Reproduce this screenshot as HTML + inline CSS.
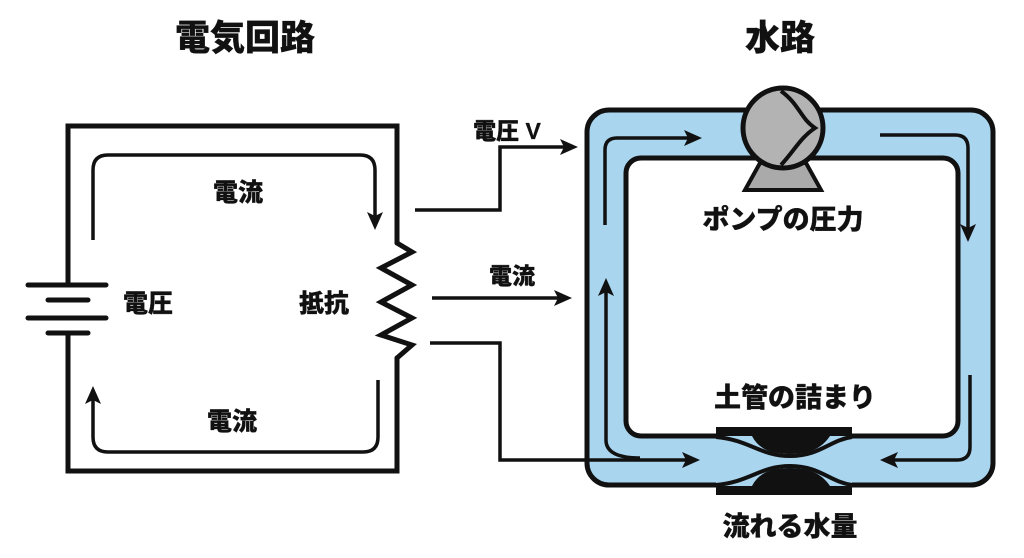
<!DOCTYPE html>
<html><head><meta charset="utf-8"><style>
html,body{margin:0;padding:0;background:#fff;}
svg{display:block}
text{font-family:"Liberation Sans","Noto Sans CJK JP",sans-serif;font-weight:900;fill:#111;stroke:#111;stroke-width:0.3}
</style></head><body>
<svg width="1024" height="558" viewBox="0 0 1024 558" xmlns="http://www.w3.org/2000/svg">
<text x="245" y="50" font-size="35" text-anchor="middle">電気回路</text>
<text x="780" y="50" font-size="35" text-anchor="middle">水路</text>
<!-- circuit -->
<g stroke="#111" stroke-width="5" fill="none" stroke-linecap="round">
<path d="M68,285 V126 H397 V243"/>
<path d="M68,333 V471 H397 V358"/>
<path d="M397,243 L412,252 L381,268 L412,285 L381,302 L412,318 L381,335 L412,345 L397,358" stroke-linejoin="miter"/>
<line x1="28" y1="285" x2="106" y2="285"/>
<line x1="48" y1="300" x2="88" y2="300"/>
<line x1="28" y1="318" x2="106" y2="318"/>
<line x1="48" y1="333" x2="88" y2="333"/>
</g>
<g stroke="#111" stroke-width="3.5" fill="none">
<path d="M93,240 V170 Q93,155 108,155 H360 Q375,155 375,170 V220"/>
<path d="M378,380 V437 Q378,452 363,452 H108 Q93,452 93,437 V396"/>
</g>
<g fill="#111">
<polygon points="375,230 367,212 375,216 383,212"/>
<polygon points="93,386 85,404 93,400 101,404"/>
</g>
<text x="238" y="201" font-size="25" text-anchor="middle">電流</text>
<text x="148" y="312" font-size="25" text-anchor="middle">電圧</text>
<text x="324" y="312" font-size="25" text-anchor="middle">抵抗</text>
<text x="232" y="430" font-size="25" text-anchor="middle">電流</text>
<!-- water -->
<rect x="587" y="110" width="406" height="375" rx="22" fill="#a9d5ef" stroke="#111" stroke-width="5"/>
<rect x="626" y="158" width="332" height="278" rx="15" fill="#fff" stroke="#111" stroke-width="5"/>
<!-- restriction -->
<rect x="716" y="436" width="136" height="50" fill="#a9d5ef"/>
<rect x="716" y="427" width="136" height="9" fill="#111"/>
<rect x="716" y="486" width="136" height="9" fill="#111"/>
<path d="M752,436 Q758,448 772,452 Q790,456 808,452 Q822,448 830,436 Z" fill="#111"/>
<path d="M752,486 Q758,474 772,470 Q790,466 808,470 Q822,474 830,486 Z" fill="#111"/>
<g stroke="#111" stroke-width="4" fill="none">
<path d="M716,437 C750,440 760,456 790,456 C820,456 830,440 852,437"/>
<path d="M716,485 C750,482 760,466 790,466 C820,466 830,482 852,485"/>
</g>
<!-- middle arrows -->
<g stroke="#111" stroke-width="3.5" fill="none">
<path d="M415,210 H500 V147 H568"/>
<path d="M432,298 H562"/>
<path d="M430,343 H500 V460 H690"/>
</g>
<g fill="#111">
<polygon points="578,147 560,139 564,147 560,155"/>
<polygon points="572,298 554,290 558,298 554,306"/>
<polygon points="700,460 682,452 686,460 682,468"/>
</g>
<text x="507" y="139" font-size="23" text-anchor="middle">電圧 V</text>
<text x="512" y="284" font-size="23" text-anchor="middle">電流</text>
<!-- pump -->
<path d="M745,190 L760,163 H806 L821,190 Z" fill="#aaa" stroke="#111" stroke-width="4"/>
<circle cx="783" cy="128" r="40" fill="#b3b3b3" stroke="#111" stroke-width="5"/>
<path d="M781,91 C800,105 800,118 815,128 C800,138 795,150 781,165" fill="none" stroke="#111" stroke-width="4"/>
<!-- flow arrows -->
<g stroke="#111" stroke-width="3.5" fill="none">
<path d="M605,225 V150 Q605,138 617,138 H692"/>
<path d="M880,135 H955 Q968,135 968,148 V232"/>
<path d="M970,375 V447 Q970,460 957,460 H890"/>
<path d="M640,458 Q606,458 606,440 V288"/>
</g>
<g fill="#111">
<polygon points="702,138 684,130 688,138 684,146"/>
<polygon points="968,242 960,224 968,228 976,224"/>
<polygon points="880,460 898,452 894,460 898,468"/>
<polygon points="606,278 598,296 606,292 614,296"/>
</g>
<text x="783" y="229" font-size="27" text-anchor="middle">ポンプの圧力</text>
<text x="795" y="407" font-size="27" text-anchor="middle">土管の詰まり</text>
<text x="790" y="536" font-size="27" text-anchor="middle">流れる水量</text>
</svg>
</body></html>
